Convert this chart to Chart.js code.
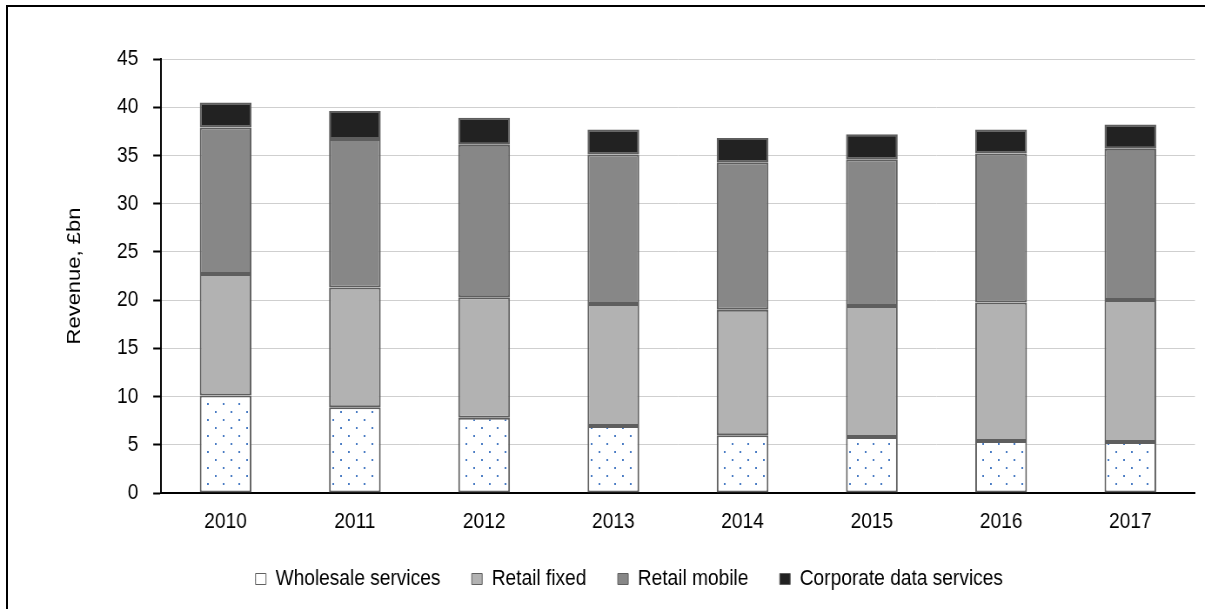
<!DOCTYPE html>
<html>
<head>
<meta charset="utf-8">
<script src="https://cdn.jsdelivr.net/npm/chart.js@4.4.1/dist/chart.umd.min.js"></script>
<style>
  html, body { margin: 0; padding: 0; background: #fff; overflow: hidden; }
  #wrap { position: relative; width: 1205px; height: 609px; overflow: hidden; }
  #frame {
    position: absolute; left: 6px; top: 5px; width: 1300px; height: 700px;
    border: 2px solid #000; box-sizing: border-box;
  }
  /* chart is laid out wider and squeezed back, giving a narrow typeface look */
  #squeeze { position: absolute; left: 0; top: 0; transform-origin: 0 0; }
</style>
</head>
<body>
<div id="wrap">
  <div id="frame"></div>
  <div id="squeeze"><canvas id="revenueChart"></canvas></div>
</div>
<script>
const years = ["2010", "2011", "2012", "2013", "2014", "2015", "2016", "2017"];
const wholesale = [10.1, 8.9, 7.8, 6.95, 6.0, 5.8, 5.4, 5.3];
const retailFixed = [12.6, 12.4, 12.5, 12.65, 13.0, 13.6, 14.35, 14.7];
const retailMobile = [15.2, 15.4, 15.8, 15.5, 15.3, 15.2, 15.45, 15.7];
const corporateData = [2.6, 2.9, 2.8, 2.6, 2.5, 2.6, 2.5, 2.5];
const yTicks = [0, 5, 10, 15, 20, 25, 30, 35, 40, 45];

const SQUASH = 0.87;
const W = Math.round(1205 / SQUASH);
const H = 609;
const sx = (px) => px / SQUASH; // screen px -> canvas px, horizontal only

const FONT = "'Liberation Sans', Arial, sans-serif";
const FONT_SIZE = 22;

const canvas = document.getElementById("revenueChart");
canvas.width = W;
canvas.height = H;
canvas.style.width = W + "px";
canvas.style.height = H + "px";
document.getElementById("squeeze").style.transform = `scaleX(${SQUASH})`;

// white fill with small blue dots for the wholesale segment
function dotPattern() {
  const tile = document.createElement("canvas");
  tile.width = 18;
  tile.height = 16;
  const t = tile.getContext("2d");
  t.fillStyle = "#ffffff";
  t.fillRect(0, 0, 18, 16);
  t.fillStyle = "#4a7cc4";
  t.fillRect(4, 3, 2, 2);
  t.fillRect(13, 11, 2, 2);
  return t.createPattern(tile, "repeat");
}

const dots = dotPattern();

const series = [
  { label: "Wholesale services", data: wholesale, backgroundColor: dots },
  { label: "Retail fixed", data: retailFixed, backgroundColor: "#b2b2b2" },
  { label: "Retail mobile", data: retailMobile, backgroundColor: "#878787" },
  { label: "Corporate data services", data: corporateData, backgroundColor: "#222222" },
];

const plotLeft = sx(161);
const padLeft = 73;

new Chart(canvas, {
  type: "bar",
  data: {
    labels: years,
    datasets: series.map((s) => ({
      ...s,
      borderColor: "#5e5e5e",
      borderWidth: 2,
      borderSkipped: false,
      categoryPercentage: 1,
      barPercentage: 0.4,
    })),
  },
  options: {
    responsive: false,
    animation: false,
    events: [],
    layout: { padding: { left: padLeft, right: sx(10), top: 59, bottom: 9 } },
    plugins: {
      tooltip: { enabled: false },
      legend: {
        position: "bottom",
        labels: {
          color: "#000",
          font: { family: FONT, size: FONT_SIZE },
          boxWidth: 12,
          boxHeight: 11,
          padding: 36,
          generateLabels: (chart) =>
            Chart.defaults.plugins.legend.labels
              .generateLabels(chart)
              .map((item) => ({ ...item, lineWidth: 1, strokeStyle: "#606060" })),
        },
      },
    },
    scales: {
      x: {
        stacked: true,
        grid: { display: false, drawTicks: false },
        border: { color: "#000", width: 2 },
        ticks: { color: "#000", font: { family: FONT, size: FONT_SIZE }, padding: 16 },
        afterFit: (scale) => { scale.height = 39; },
      },
      y: {
        stacked: true,
        min: 0,
        max: 45,
        afterBuildTicks: (scale) => {
          scale.ticks = yTicks.map((v) => ({ value: v }));
        },
        grid: {
          color: "#cfcfcf",
          borderDash: [2, 2],
          tickColor: "#000",
          tickWidth: 2,
          tickLength: 9,
          tickBorderDash: [],
        },
        border: { color: "#000", width: 2 },
        ticks: { color: "#000", font: { family: FONT, size: FONT_SIZE }, padding: 17 },
        title: {
          display: true,
          text: "Revenue, £bn",
          color: "#000",
          font: { family: FONT, size: FONT_SIZE },
          padding: 0,
        },
        afterFit: (scale) => { scale.width = plotLeft - padLeft; },
      },
    },
  },
});
</script>
</body>
</html>
